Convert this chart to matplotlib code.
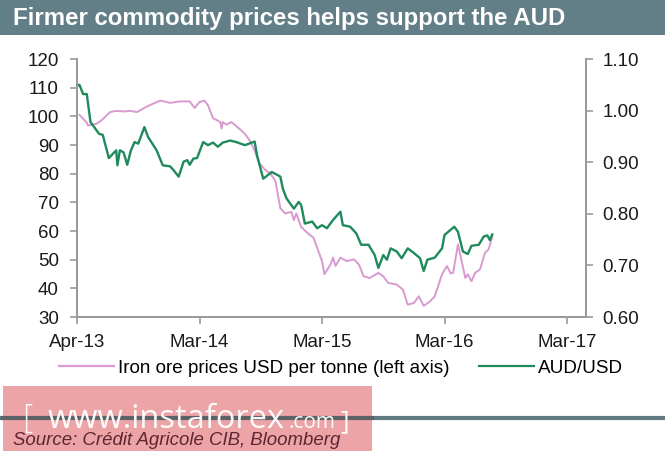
import matplotlib.pyplot as plt
from matplotlib.patches import Rectangle
from matplotlib.lines import Line2D

plt.rcParams['font.family'] = ['Liberation Sans', 'DejaVu Sans']

# x axis: years since Apr-13 (ticks one year apart)
tick_pos = [0, 1, 2, 3, 4]
tick_labels = ["Apr-13", "Mar-14", "Mar-15", "Mar-16", "Mar-17"]

# AUD/USD (right axis)
aud_t = [0.00, 0.02, 0.05, 0.08, 0.11, 0.18, 0.21, 0.26, 0.32, 0.33, 0.35, 0.38,
         0.41, 0.44, 0.47, 0.50, 0.55, 0.58, 0.65, 0.70, 0.76, 0.79, 0.83, 0.87,
         0.90, 0.92, 0.95, 0.98, 1.03, 1.07, 1.11, 1.15, 1.19, 1.25, 1.30, 1.37,
         1.45, 1.47, 1.52, 1.59, 1.63, 1.66, 1.68, 1.71, 1.77, 1.81, 1.83, 1.86,
         1.92, 1.96, 2.00, 2.04, 2.09, 2.15, 2.17, 2.23, 2.28, 2.32, 2.38, 2.43,
         2.46, 2.50, 2.53, 2.56, 2.61, 2.65, 2.70, 2.75, 2.80, 2.83, 2.86, 2.92,
         2.98, 3.00, 3.05, 3.08, 3.11, 3.15, 3.19, 3.22, 3.28, 3.32, 3.35, 3.37,
         3.39]
aud = [1.048, 1.050, 1.032, 1.032, 0.978, 0.955, 0.953, 0.908, 0.923, 0.894, 0.923, 0.919,
       0.895, 0.923, 0.939, 0.936, 0.968, 0.949, 0.923, 0.894, 0.892, 0.884, 0.872, 0.901,
       0.904, 0.895, 0.907, 0.908, 0.939, 0.933, 0.938, 0.930, 0.938, 0.942, 0.939, 0.933,
       0.940, 0.913, 0.868, 0.881, 0.876, 0.872, 0.849, 0.830, 0.810, 0.823, 0.817, 0.781,
       0.785, 0.772, 0.778, 0.772, 0.788, 0.804, 0.778, 0.775, 0.762, 0.740, 0.740, 0.720,
       0.695, 0.720, 0.711, 0.733, 0.727, 0.714, 0.733, 0.724, 0.714, 0.689, 0.711, 0.715,
       0.733, 0.759, 0.769, 0.775, 0.765, 0.727, 0.722, 0.738, 0.740, 0.756, 0.758, 0.749,
       0.760]

# Iron ore USD per tonne (left axis)
iron_t = [0.02, 0.08, 0.09, 0.16, 0.20, 0.27, 0.32, 0.38, 0.43, 0.49, 0.56, 0.62,
          0.68, 0.76, 0.84, 0.92, 0.96, 1.00, 1.04, 1.07, 1.11, 1.17, 1.18, 1.19,
          1.22, 1.26, 1.30, 1.34, 1.37, 1.41, 1.45, 1.49, 1.54, 1.58, 1.62, 1.66,
          1.70, 1.75, 1.77, 1.79, 1.83, 1.89, 1.93, 1.96, 2.00, 2.02, 2.07, 2.09,
          2.11, 2.15, 2.20, 2.26, 2.30, 2.34, 2.39, 2.46, 2.50, 2.54, 2.61, 2.66,
          2.70, 2.75, 2.79, 2.83, 2.88, 2.92, 2.98, 3.02, 3.05, 3.07, 3.11, 3.14,
          3.17, 3.19, 3.22, 3.25, 3.29, 3.33, 3.36, 3.38, 3.39]
iron = [100.5, 97.8, 96.8, 97.4, 98.6, 101.5, 101.9, 101.7, 101.9, 101.5, 103.2, 104.4,
        105.5, 104.7, 105.2, 105.2, 102.9, 105.0, 105.5, 103.8, 99.4, 98.0, 95.7, 98.0,
        97.1, 98.0, 96.6, 95.1, 93.9, 91.6, 88.1, 83.5, 81.2, 80.0, 77.4, 67.9,
        66.1, 66.7, 63.8, 66.1, 61.4, 59.0, 57.7, 54.2, 49.5, 44.9, 48.4, 50.7,
        47.8, 50.7, 49.5, 50.1, 48.4, 44.2, 43.6, 45.4, 44.2, 41.9, 41.3, 39.6,
        34.3, 34.9, 37.2, 33.9, 35.4, 37.2, 44.9, 47.8, 45.2, 45.4, 55.3, 49.5,
        43.6, 44.9, 42.5, 45.4, 46.6, 52.4, 53.6, 56.5, 58.0]

pink = '#d89ad0'
green = '#1f8a5b'
axis_grey = '#9a9a9a'

fig = plt.figure(figsize=(6.65, 4.51), dpi=100)
ax = fig.add_axes([77 / 665, 1 - 317 / 451, (586 - 77) / 665, (317 - 59) / 451])
ax2 = ax.twinx()

ax.plot(iron_t, iron, color=pink, lw=1.4)
ax2.plot(aud_t, aud, color=green, lw=1.7)

ax.set_xlim(0, 4.155)
ax.set_ylim(30, 120)
ax.set_yticks(range(30, 121, 10))
ax2.set_ylim(0.60, 1.10)
ax2.set_yticks([0.60, 0.70, 0.80, 0.90, 1.00, 1.10])
ax2.set_yticklabels(["%.2f" % v for v in [0.60, 0.70, 0.80, 0.90, 1.00, 1.10]])
ax.set_xticks(tick_pos)
ax.set_xticklabels(tick_labels)

for a in (ax, ax2):
    a.spines['top'].set_visible(False)
    for s in ('left', 'right', 'bottom'):
        a.spines[s].set_color(axis_grey)
        a.spines[s].set_linewidth(1.4)
    a.tick_params(colors=axis_grey, labelcolor='#1a1a1a', labelsize=13.5,
                  length=5, width=1.2)
ax.tick_params(axis='x', pad=7)
ax.tick_params(axis='y', pad=8)
ax2.tick_params(axis='y', pad=7)

# legend
handles = [Line2D([], [], color=pink, lw=1.6),
           Line2D([], [], color=green, lw=1.6)]
fig.legend(handles, ["Iron ore prices USD per tonne (left axis)", "AUD/USD"],
           loc='center', bbox_to_anchor=(341 / 665, 1 - 368 / 451), ncol=2,
           frameon=False, fontsize=13.6, handlelength=2.9, handletextpad=0.2,
           columnspacing=1.6)

# title bar
fig.patches.append(Rectangle((0, 1 - 35 / 451), 1, 35 / 451, transform=fig.transFigure,
                             facecolor='#627e86', edgecolor='none', zorder=0))
fig.text(13 / 665, 1 - 18 / 451, "Firmer commodity prices helps support the AUD",
         color='white', fontsize=17.3, fontweight='bold', va='center', ha='left')

# footer line, watermark box and source
fig.add_artist(Line2D([0, 1], [1 - 418 / 451] * 2, transform=fig.transFigure,
                      color='#607a80', lw=3, zorder=1))
fig.patches.append(Rectangle((3 / 665, 0), 369 / 665, (451 - 386) / 451,
                             transform=fig.transFigure, facecolor='#eca4a7',
                             edgecolor='none', zorder=2))
fig.add_artist(Line2D([3 / 665, 372 / 665], [1 - 418 / 451] * 2, transform=fig.transFigure,
                      color='#5c6266', lw=3, zorder=3))
fig.text(13 / 665, 1 - 445 / 451, "Source: Crédit Agricole CIB, Bloomberg",
         color='#5e2630', fontsize=13.4, style='italic', va='baseline', ha='left', zorder=4)
wm = dict(color='white', family=['Open Sans', 'DejaVu Sans'], fontweight='normal',
          va='baseline', ha='left', zorder=5, alpha=0.95)
fig.text(22 / 665, 1 - 428 / 451, "[", fontsize=24, fontstretch='condensed', **wm)
fig.text(48 / 665, 1 - 428 / 451, "www.instaforex", fontsize=23.5, **wm)
fig.text(288 / 665, 1 - 428 / 451, ".com", fontsize=15, **wm)
fig.text(340 / 665, 1 - 428 / 451, "]", fontsize=19, **wm)

fig.savefig('out.png', dpi=100)
